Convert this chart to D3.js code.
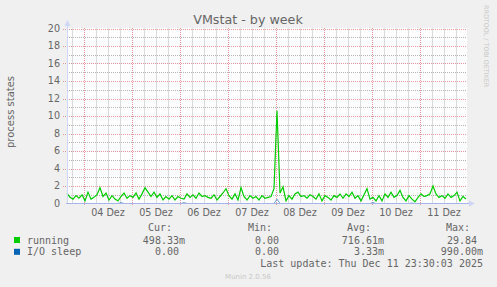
<!DOCTYPE html>
<html>
<head>
<meta charset="utf-8">
<script src="https://cdn.jsdelivr.net/npm/d3@7"></script>
<style>
  html, body { margin: 0; padding: 0; background: #f0f0f0; }
  svg { display: block; }
</style>
</head>
<body>
<svg id="chart" width="497" height="287"></svg>
<script>
// running, 1.5h samples starting Dec 3 15:30
const running = [
  1.15,0.7,0.5,0.9,0.6,1.0,0.3,1.3,0.5,0.7,1.0,1.8,
  0.8,1.2,0.4,0.9,0.5,0.3,0.8,1.2,0.6,0.9,0.7,1.2,
  0.5,1.1,1.8,1.3,0.8,1.3,0.7,1.1,0.4,0.8,0.5,0.9,
  0.4,0.8,0.6,0.5,1.1,0.7,1.0,0.6,1.2,0.8,0.9,0.7,
  0.6,1.0,0.4,0.8,1.2,1.7,0.9,0.5,1.1,0.4,1.8,0.8,
  0.4,0.9,0.6,0.8,0.4,0.9,0.6,0.7,0.8,1.7,10.6,1.2,
  1.9,0.3,0.9,0.5,1.1,1.3,0.8,0.9,0.6,1.0,0.8,0.5,
  1.1,0.3,0.9,0.7,0.4,0.9,0.7,1.1,0.6,1.1,0.8,1.3,
  0.6,0.9,0.3,1.0,1.7,0.5,0.7,0.3,0.9,0.3,1.1,0.7,
  1.3,0.7,0.9,1.5,0.7,0.3,0.9,0.5,0.2,0.7,1.1,0.8,
  0.9,1.1,2.0,1.1,0.7,0.9,0.6,1.1,0.7,0.9,1.3,0.3,
  0.8,0.5
]
const ioSleep = [
  0,0,0,0,0,0,0,0,0,0,0,0,
  0,0,0,0,0,0,0.1,0,0,0,0,0,
  0,0,0,0,0,0,0,0,0,0,0,0,
  0,0,0,0.1,0,0,0,0,0,0,0,0,
  0,0,0,0,0,0,0,0,0,0,0,0,
  0,0,0,0,0,0,0,0,0,0,0.5,0,
  0,0,0,0,0,0,0,0,0,0,0,0,
  0,0,0,0,0,0,0,0,0,0,0,0,
  0,0,0,0,0,0,0.1,0,0,0,0,0,
  0,0,0,0,0,0,0,0.05,0,0,0,0,
  0,0,0,0,0,0,0,0,0,0,0,0,
  0,0
]
const yTicks = [0, 2, 4, 6, 8, 10, 12, 14, 16, 18, 20]
const yMinorTicks = [1, 3, 5, 7, 9, 11, 13, 15, 17, 19]
const seriesNames = ['running', 'I/O sleep']
const seriesColors = ['#00cc00', '#0066b3']
const colHeaders = ['Cur:', 'Min:', 'Avg:', 'Max:']
const legendValues = [
  ['498.33m', '0.00', '716.61m', '29.84'],
  ['0.00', '0.00', '3.33m', '990.00m']
]

const startTime = new Date(2025, 11, 3, 15, 30)
const endTime = new Date(2025, 11, 11, 23, 30)
const stepMs = 1.5 * 3600 * 1000

const svg = d3.select('#chart')
const sans = 'DejaVu Sans, sans-serif'
const mono = 'DejaVu Sans Mono, monospace'

const x = d3.scaleTime().domain([startTime, endTime]).range([67, 467])
const y = d3.scaleLinear().domain([0, 20]).range([203.5, 28.5])
const crisp = v => Math.round(v) + 0.5

//Fond du canevas
svg.append('rect').attr('x', 67).attr('y', 28).attr('width', 400).attr('height', 176).attr('fill', '#fff')

//Grille mineure : lignes horizontales aux valeurs impaires, verticales toutes les 6 heures
const grid = svg.append('g')
yMinorTicks.forEach(v => {
  grid.append('line').attr('x1', 67).attr('x2', 467).attr('y1', crisp(y(v))).attr('y2', crisp(y(v)))
    .attr('stroke', '#b4b4b4').attr('stroke-dasharray', '1,1')
})
const sixHours = x.ticks(d3.timeHour.every(6)).filter(d => d.getHours() !== 0)
sixHours.forEach(d => {
  grid.append('rect').attr('x', Math.round(x(d))).attr('y', 28).attr('width', 1).attr('height', 175)
    .attr('fill', '#dadada')
})

//Grille majeure
const days = d3.timeDay.range(startTime, endTime)
grid.selectAll('line.hmaj').data(yTicks.slice(1)).join('line').attr('class', 'hmaj')
  .attr('x1', 63).attr('x2', 467).attr('y1', d => crisp(y(d))).attr('y2', d => crisp(y(d)))
  .attr('stroke', '#e49a9a').attr('stroke-dasharray', '1,1')
grid.selectAll('line.vmaj').data(days).join('line').attr('class', 'vmaj')
  .attr('x1', d => crisp(x(d))).attr('x2', d => crisp(x(d))).attr('y1', 28).attr('y2', 206)
  .attr('stroke', '#e49a9a').attr('stroke-dasharray', '1,1')

//Etiquettes Y
svg.append('g').selectAll('text').data(yTicks).join('text')
  .attr('x', 60).attr('y', d => y(d)).attr('dy', '0.35em')
  .attr('text-anchor', 'end').attr('font-family', sans).attr('font-size', 9.6)
  .attr('fill', '#666').text(d => d)

//Etiquettes X (à midi)
svg.append('g').selectAll('text').data(days).join('text')
  .attr('x', d => x(d3.timeHour.offset(d, 12))).attr('y', 216)
  .attr('text-anchor', 'middle').attr('font-family', sans).attr('font-size', 9.6)
  .attr('fill', '#666').text(d => d3.timeFormat('%d')(d) + ' Dez')

//Séries
const line = d3.line()
  .x((d, i) => x(new Date(startTime.getTime() + i * stepMs)))
  .y(d => y(d))
svg.append('path').datum(running).attr('d', line).attr('fill', 'none')
  .attr('stroke', seriesColors[0]).attr('stroke-width', 1.2)
svg.append('path').datum(ioSleep).attr('d', line).attr('fill', 'none')
  .attr('stroke', seriesColors[1]).attr('stroke-width', 1).attr('opacity', 0.6)

//Axes et flèches
svg.append('line').attr('x1', 67.5).attr('x2', 67.5).attr('y1', 24).attr('y2', 204).attr('stroke', '#cfd6f8')
svg.append('line').attr('x1', 66).attr('x2', 470).attr('y1', 203.5).attr('y2', 203.5).attr('stroke', '#a8b4ec')
svg.append('path').attr('d', 'M64.5,26 L67.5,20 L70.5,26 Z').attr('fill', '#cfd6f8')
svg.append('path').attr('d', 'M469,200.5 L475,203.5 L469,206.5 Z').attr('fill', '#cfd6f8')

//Titre
svg.append('text').attr('x', 248).attr('y', 24).attr('text-anchor', 'middle')
  .attr('font-family', sans).attr('font-size', 12.7).attr('fill', '#666').text('VMstat - by week')

//Titre vertical
svg.append('text').attr('transform', 'translate(14,112) rotate(-90)').attr('text-anchor', 'middle')
  .attr('font-family', sans).attr('font-size', 10).attr('fill', '#666').text('process states')

svg.append('text').attr('transform', 'translate(484,5) rotate(90)').attr('text-anchor', 'start')
  .attr('font-family', sans).attr('font-size', 6.4).attr('fill', '#c8c8c8').text('RRDTOOL / TOBI OETIKER')

//Légende
const colEdges = [185, 285, 384, 483]
const legend = svg.append('g').attr('font-family', mono).attr('font-size', 10).attr('fill', '#666')
colHeaders.forEach((h, i) => {
  legend.append('text').attr('x', colEdges[i] - 13).attr('y', 230.5).attr('text-anchor', 'end').text(h)
})
seriesNames.forEach((name, r) => {
  const by = 243.5 + r * 11.8
  legend.append('rect').attr('x', 14).attr('y', by - 6.5).attr('width', 6).attr('height', 6)
    .attr('fill', seriesColors[r])
  legend.append('text').attr('x', 27).attr('y', by).text(name)
  legendValues[r].forEach((v, c) => {
    const edge = /[a-z]$/.test(v) ? colEdges[c] : colEdges[c] - 6
    legend.append('text').attr('x', edge).attr('y', by).attr('text-anchor', 'end').text(v)
  })
})
legend.append('text').attr('x', 483).attr('y', 267).attr('text-anchor', 'end')
  .text('Last update: Thu Dec 11 23:30:03 2025')

svg.append('text').attr('x', 248).attr('y', 279).attr('text-anchor', 'middle')
  .attr('font-family', sans).attr('font-size', 7).attr('fill', '#c8c8c8').text('Munin 2.0.56')
</script>
</body>
</html>
